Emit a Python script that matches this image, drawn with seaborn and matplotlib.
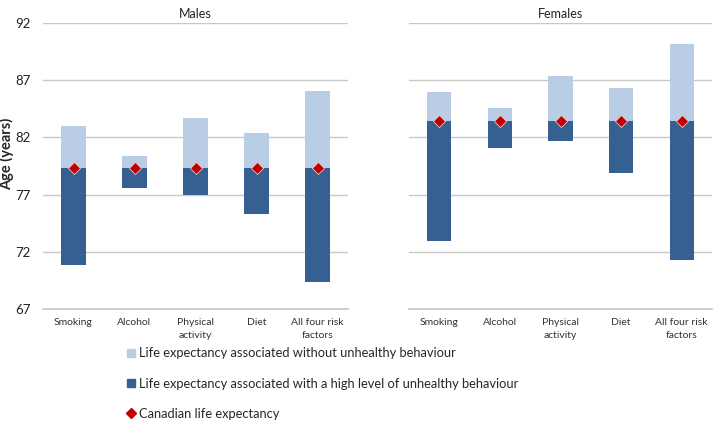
import matplotlib
matplotlib.use("Agg")
import matplotlib.pyplot as plt
import seaborn as sns
import pandas as pd
import numpy as np
from matplotlib.lines import Line2D

categories = ["Smoking", "Alcohol", "Physical\nactivity", "Diet", "All four risk\nfactors"]
male_canada = [79.3, 79.3, 79.3, 79.3, 79.3]
male_without = [83.0, 80.4, 83.7, 82.4, 86.1]
male_high = [70.8, 77.6, 77.0, 75.3, 69.3]
female_canada = [83.4, 83.4, 83.4, 83.4, 83.4]
female_without = [86.0, 84.6, 87.4, 86.3, 90.2]
female_high = [72.9, 81.1, 81.7, 78.9, 71.3]
yticks = [67, 72, 77, 82, 87, 92]

LIGHT = "#B9CDE5"
DARK = "#376092"
RED = "#C00000"
GRID = "#C8C8C8"

sns.set_theme(style="white")
plt.rcParams["font.family"] = ["Lato", "DejaVu Sans"]

fig = plt.figure(figsize=(7.13, 4.22), dpi=100)
ax1 = fig.add_axes([43/713, 1-308.7/422, 305/713, 285.4/422])
ax2 = fig.add_axes([409/713, 1-308.7/422, 303/713, 285.4/422])

panels = [(ax1, "Males", male_canada, male_without, male_high),
          (ax2, "Females", female_canada, female_without, female_high)]

for ax, title, canada, without, high in panels:
    df = pd.DataFrame({
        "cat": categories,
        "canada": canada,
        "up": np.array(without) - np.array(canada),
        "down": np.array(canada) - np.array(high),
        "high": high,
    })
    sns.barplot(data=df, x="cat", y="up", bottom=df["canada"].values, color=LIGHT,
                width=0.4, saturation=1, ax=ax, linewidth=0, order=categories)
    sns.barplot(data=df, x="cat", y="down", bottom=df["high"].values, color=DARK,
                width=0.4, saturation=1, ax=ax, linewidth=0, order=categories)
    sns.scatterplot(data=df, x="cat", y="canada", marker="D", color=RED, s=38,
                    edgecolor="#F2C0C0", linewidth=0.6, ax=ax, zorder=5)
    ax.set_ylim(67, 92)
    ax.set_xlim(-0.5, 4.5)
    ax.set_yticks(yticks)
    ax.yaxis.grid(True, color=GRID, linewidth=1)
    ax.set_axisbelow(True)
    for s in ["top", "right", "left"]:
        ax.spines[s].set_visible(False)
    ax.spines["bottom"].set_color(GRID)
    ax.tick_params(axis="both", length=0)
    ax.tick_params(axis="x", labelsize=7.5, pad=7, colors="#333333")
    ax.tick_params(axis="y", labelsize=9.5, pad=9, colors="#222222")
    for lab in ax.get_xticklabels():
        lab.set_linespacing(1.55)
    ax.set_xlabel("")
    ax.set_title(title, fontsize=9, pad=4, color="#222222")

ax1.set_ylabel("Age (years)", fontsize=10.5, fontweight="bold")
ax1.yaxis.set_label_coords(-29/305, 0.543)
ax2.set_ylabel("")
ax2.set_yticklabels([])

handles = [
    Line2D([0], [0], marker="s", color="none", markerfacecolor=LIGHT, markeredgecolor=LIGHT, markersize=6),
    Line2D([0], [0], marker="s", color="none", markerfacecolor=DARK, markeredgecolor=DARK, markersize=6),
    Line2D([0], [0], marker="D", color="none", markerfacecolor=RED, markeredgecolor=RED, markersize=5),
]
labels = ["Life expectancy associated without unhealthy behaviour",
          "Life expectancy associated with a high level of unhealthy behaviour",
          "Canadian life expectancy"]
fig.legend(handles, labels, loc="upper left", bbox_to_anchor=(122/713, 1-342/422),
           frameon=False, fontsize=9.3, labelspacing=1.42, handlelength=0.6,
           handletextpad=0.3, borderaxespad=0)

fig.savefig("out.png", dpi=100)
